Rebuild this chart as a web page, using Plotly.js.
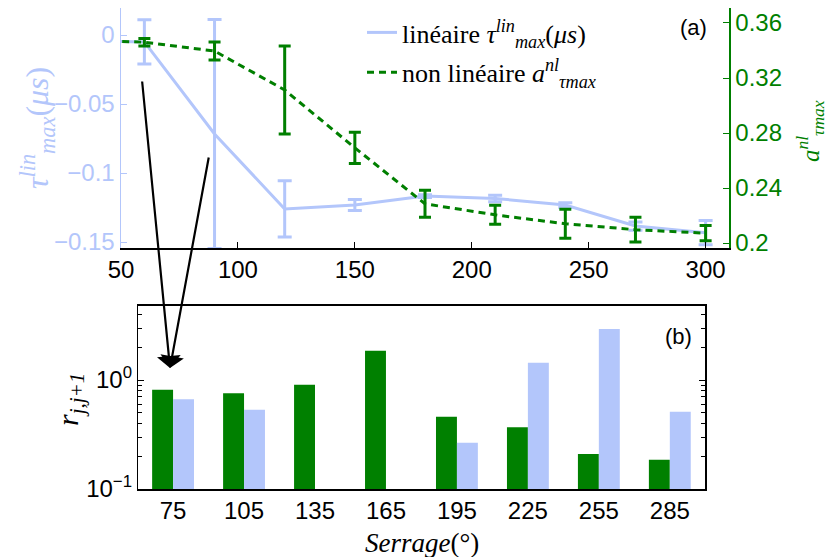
<!DOCTYPE html>
<html>
<head>
<meta charset="utf-8">
<script src="https://cdn.plot.ly/plotly-3.0.1.min.js"></script>
<style>html,body{margin:0;padding:0;background:#fff;}#chart{width:828px;height:557px;}</style>
</head>
<body>
<div id="chart"></div>
<script>
// ---- Panel (a) data ----
const serrageA = [30, 60, 90, 120, 150, 180, 210, 240, 270, 300];
const tauLin = [-0.004, -0.005, -0.0717, -0.126, -0.1232, -0.1167, -0.1184, -0.1232, -0.1384, -0.1432];
const tauLinErr = [0, 0.016, 0.083, 0.0204, 0.004, 0.001, 0.0024, 0.0017, 0.003, 0.0088];
const aNl = [0.348, 0.346, 0.3396, 0.3113, 0.2692, 0.2285, 0.2205, 0.214, 0.2097, 0.2072];
const aNlErr = [0, 0.0027, 0.0065, 0.032, 0.0113, 0.0098, 0.0069, 0.0105, 0.009, 0.0055];
const ticksA = [50, 100, 150, 200, 250, 300];
const ticksLeft = [-0.15, -0.1, -0.05, 0];
const ticksRight = [0.2, 0.24, 0.28, 0.32, 0.36];
// ---- Panel (b) data ----
const serrageB = [75, 105, 135, 165, 195, 225, 255, 285];
const rNl = [0.815, 0.755, 0.906, 1.86, 0.461, 0.368, 0.21, 0.186];
const rLin = [0.665, 0.534, null, null, 0.266, 1.44, 2.94, 0.512];
const topTicksB = [105, 165, 195, 225, 255, 285];
const logTickVals = [0.1, 1];
const logTickText = ['10<sup>−1</sup>', '10<sup>0</sup>'];

const BLUE = '#b3c6fb';
const GREEN = '#007f00';
const W = 828, H = 557;
const px = v => v / W, py = v => 1 - v / H;
const tickFont = {family: 'Liberation Sans, Arial, sans-serif', size: 24};
const serif = '"Liberation Serif", "DejaVu Serif", "Times New Roman", Times, serif';

const traces = [
  {x: serrageA, y: tauLin, type: 'scatter', mode: 'lines', xaxis: 'x', yaxis: 'y', legendgroup: 'a',
   name: 'linéaire <i>τ</i><sup><i>lin</i></sup><sub><i>max</i></sub>(<i>μs</i>)',
   line: {color: BLUE, width: 3},
   error_y: {type: 'data', array: tauLinErr, visible: true, color: BLUE, thickness: 3, width: 7}},
  {x: serrageA, y: aNl, type: 'scatter', mode: 'lines', xaxis: 'x', yaxis: 'y2', legendgroup: 'b',
   name: 'non linéaire <i>a</i><sup><i>nl</i></sup><sub><i>τmax</i></sub>',
   line: {color: GREEN, width: 3, dash: '7px,5px'},
   error_y: {type: 'data', array: aNlErr, visible: true, color: GREEN, thickness: 3, width: 6}},
  {x: serrageB, y: rNl, type: 'bar', xaxis: 'x2', yaxis: 'y3', showlegend: false,
   marker: {color: '#008000', line: {width: 0}}},
  {x: serrageB, y: rLin, type: 'bar', xaxis: 'x2', yaxis: 'y3', showlegend: false,
   marker: {color: BLUE, line: {width: 0}}}
];

const ann = (x, y, text, font, extra) => Object.assign({xref: 'paper', yref: 'paper', x: px(x), y: py(y),
  text: text, showarrow: false, xanchor: 'center', yanchor: 'middle', font: font}, extra || {});

const layout = {
  width: W, height: H,
  margin: {l: 0, r: 0, t: 0, b: 0},
  paper_bgcolor: '#fff', plot_bgcolor: 'rgba(0,0,0,0)',
  showlegend: true,
  barmode: 'group', bargap: 0.41, bargroupgap: 0,
  legend: {x: px(362), y: py(9), xanchor: 'left', yanchor: 'top',
           font: {family: serif, size: 26, color: '#000'}, bgcolor: 'rgba(0,0,0,0)',
           tracegroupgap: 3},
  xaxis: {domain: [px(121), px(729)], anchor: 'y', range: [50, 310], tickvals: ticksA,
          ticks: 'inside', ticklen: 6, tickcolor: '#000', showline: true, linecolor: '#000', linewidth: 1.5,
          showgrid: false, zeroline: false, tickfont: Object.assign({color: '#000'}, tickFont), automargin: false},
  yaxis: {domain: [py(248), py(8)], anchor: 'x', range: [-0.1543, 0.0196], tickvals: ticksLeft,
          ticks: 'inside', ticklen: 6, tickcolor: BLUE, showline: true, linecolor: BLUE, linewidth: 1.5,
          showgrid: false, zeroline: false, tickfont: Object.assign({color: BLUE}, tickFont), automargin: false},
  yaxis2: {overlaying: 'y', side: 'right', anchor: 'x', range: [0.1964, 0.3709], tickvals: ticksRight,
           ticks: 'inside', ticklen: 6, tickcolor: GREEN, showline: true, linecolor: GREEN, linewidth: 1.5,
           showgrid: false, zeroline: false, tickfont: Object.assign({color: GREEN}, tickFont), automargin: false},
  xaxis2: {domain: [px(138.3), px(705.3)], anchor: 'y3', range: [60.3, 300], tickvals: serrageB,
           ticks: '', showline: true, linecolor: '#000', linewidth: 1.5, mirror: true,
           showgrid: false, zeroline: false, tickfont: Object.assign({color: '#000'}, tickFont), automargin: false},
  xaxis3: {overlaying: 'x2', side: 'top', anchor: 'y3', range: [60.3, 300], tickvals: topTicksB,
           ticks: 'inside', ticklen: 6, tickcolor: '#000', showticklabels: false, showline: false,
           showgrid: false, zeroline: false, automargin: false},
  yaxis3: {domain: [py(489), py(305.7)], anchor: 'x2', type: 'log', range: [-1, 0.682],
           tickvals: logTickVals, ticktext: logTickText, ticks: 'inside', ticklen: 6, tickcolor: '#000',
           minor: {ticks: 'inside', ticklen: 4, tickcolor: '#000', dtick: 'D1', showgrid: false},
           showline: true, linecolor: '#000', linewidth: 1.5, mirror: 'allticks',
           showgrid: false, zeroline: false, tickfont: Object.assign({color: '#000'}, tickFont), automargin: false},
  annotations: [
    ann(37, 128, '<i>τ</i><sup><i>lin</i></sup><sub><i>max</i></sub>(<i>μs</i>)',
        {family: serif, size: 32, color: BLUE}, {textangle: -90}),
    ann(810, 131, '<i>a</i><sup><i>nl</i></sup><sub><i>τmax</i></sub>',
        {family: serif, size: 25, color: GREEN}, {textangle: -90}),
    ann(70, 400, '<i>r</i><sub><i>j,j+1</i></sub>',
        {family: serif, size: 30, color: '#000'}, {textangle: -90}),
    ann(422, 543, '<i>Serrage</i>(°)', {family: serif, size: 27, color: '#000'}),
    ann(693, 27, '(a)', {family: 'Liberation Sans, Arial, sans-serif', size: 22, color: '#000'}),
    ann(678, 336, '(b)', {family: 'Liberation Sans, Arial, sans-serif', size: 22, color: '#000'}),
    {xref: 'paper', yref: 'paper', x: px(170), y: py(368), text: '', showarrow: true,
     ax: -28, ay: -288, arrowhead: 1, arrowsize: 1.8, arrowwidth: 2.2, arrowcolor: '#000', standoff: 0},
    {xref: 'paper', yref: 'paper', x: px(170), y: py(368), text: '', showarrow: true,
     ax: 39, ay: -212, arrowhead: 1, arrowsize: 1.8, arrowwidth: 2.2, arrowcolor: '#000', standoff: 0}
  ]
};

Plotly.newPlot('chart', traces, layout, {displayModeBar: false, staticPlot: true});
</script>
</body>
</html>
